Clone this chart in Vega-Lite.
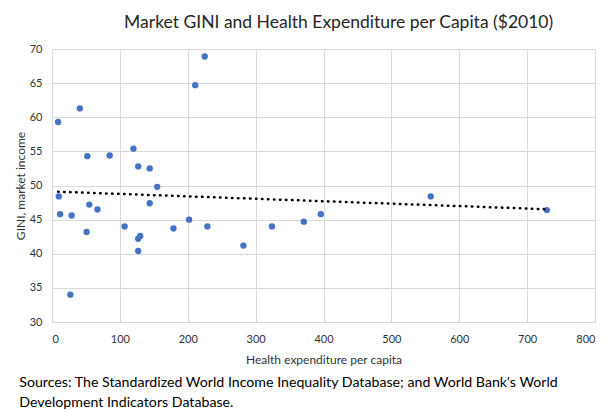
{
  "$schema": "https://vega.github.io/schema/vega-lite/v6.json",
  "background": "white",
  "padding": {"left": 14, "right": 6, "top": 13, "bottom": 2},
  "title": {
    "text": "Market GINI and Health Expenditure per Capita ($2010)",
    "font": "Lato",
    "fontSize": 17.5,
    "fontWeight": "normal",
    "color": "#262626",
    "anchor": "middle",
    "offset": 12,
    "dx": 34
  },
  "data": {
    "values": [
      {"health": 9, "gini": 59.3},
      {"health": 41, "gini": 61.3},
      {"health": 10, "gini": 48.4},
      {"health": 12, "gini": 45.8},
      {"health": 29, "gini": 45.6},
      {"health": 27, "gini": 34.0},
      {"health": 52, "gini": 54.3},
      {"health": 55, "gini": 47.2},
      {"health": 51, "gini": 43.2},
      {"health": 67, "gini": 46.5},
      {"health": 85, "gini": 54.4},
      {"health": 120, "gini": 55.4},
      {"health": 127, "gini": 52.8},
      {"health": 144, "gini": 52.5},
      {"health": 155, "gini": 49.8},
      {"health": 107, "gini": 44.0},
      {"health": 127, "gini": 42.2},
      {"health": 130, "gini": 42.6},
      {"health": 127, "gini": 40.4},
      {"health": 144, "gini": 47.4},
      {"health": 179, "gini": 43.7},
      {"health": 225, "gini": 68.9},
      {"health": 211, "gini": 64.7},
      {"health": 202, "gini": 45.0},
      {"health": 229, "gini": 44.0},
      {"health": 282, "gini": 41.2},
      {"health": 324, "gini": 44.0},
      {"health": 371, "gini": 44.7},
      {"health": 396, "gini": 45.8},
      {"health": 558, "gini": 48.4},
      {"health": 729, "gini": 46.4}
    ]
  },
  "vconcat": [
    {
      "width": 543,
      "height": 273,
      "title": {
        "text": ["Sources: The Standardized World Income Inequality Database; and World Bank's World", "Development Indicators Database."],
        "orient": "bottom",
        "anchor": "start",
        "frame": "bounds",
        "font": "Lato",
        "fontSize": 14.2,
        "fontWeight": "normal",
        "color": "#000000",
        "lineHeight": 20,
        "offset": 11,
        "dx": 5
      },
      "encoding": {
        "x": {
          "field": "health", "type": "quantitative",
          "scale": {"domain": [0, 800], "nice": false, "zero": false},
          "axis": {
            "title": "Health expenditure per capita",
            "values": [0, 100, 200, 300, 400, 500, 600, 700, 800],
            "grid": true, "gridColor": "#d9d9d9", "gridWidth": 1,
            "domain": false, "ticks": false, "labelOverlap": false,
            "labelPadding": 11, "labelFont": "Lato", "labelFontSize": 11, "labelColor": "#333333",
            "titleFont": "Lato", "titleFontSize": 12, "titleFontWeight": "normal", "titleColor": "#333333",
            "titlePadding": 10
          }
        },
        "y": {
          "field": "gini", "type": "quantitative",
          "scale": {"domain": [30, 70], "nice": false, "zero": false},
          "axis": {
            "title": "GINI, market income",
            "values": [30, 35, 40, 45, 50, 55, 60, 65, 70],
            "grid": true, "gridColor": "#d9d9d9", "gridWidth": 1,
            "domain": false, "ticks": false, "labelOverlap": false,
            "labelPadding": 10, "labelFont": "Lato", "labelFontSize": 11, "labelColor": "#333333",
            "titleFont": "Lato", "titleFontSize": 12, "titleFontWeight": "normal", "titleColor": "#333333",
            "titlePadding": 2
          }
        }
      },
      "layer": [
        {
          "mark": {"type": "point", "filled": true, "opacity": 1, "size": 40, "color": "#4472C4", "shape": "circle"}
        },
        {
          "transform": [{"regression": "gini", "on": "health"}],
          "mark": {"type": "line", "color": "#000000", "strokeWidth": 2.5, "strokeDash": [0.5, 5.5], "strokeCap": "round"}
        }
      ]
    }
  ],
  "config": {
    "view": {"stroke": null},
    "concat": {"spacing": 0}
  }
}
